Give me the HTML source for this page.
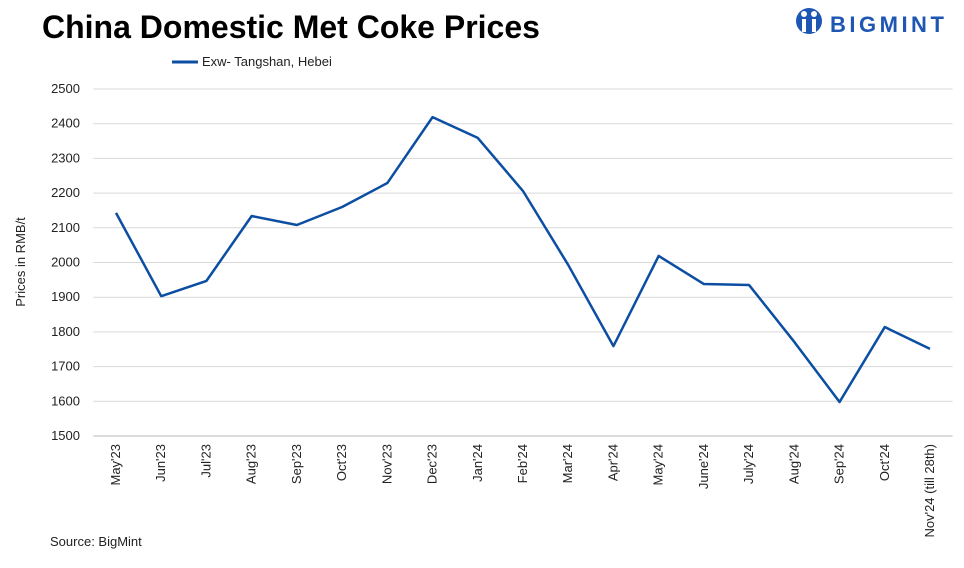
<!DOCTYPE html>
<html><head><meta charset="utf-8"><style>
body{margin:0;background:#fff;width:964px;height:563px;overflow:hidden;font-family:"Liberation Sans",Arial,sans-serif}
</style></head><body>
<svg id="c" width="964" height="563" xmlns="http://www.w3.org/2000/svg">
<text x="42" y="38" font-size="32" font-weight="bold" fill="#000">China Domestic Met Coke Prices</text>
<g>
<circle cx="809" cy="21" r="13" fill="#1e56b4"/>
<circle cx="804" cy="14" r="3" fill="#fff"/><circle cx="814" cy="14" r="3" fill="#fff"/>
<rect x="802" y="19" width="4" height="13" fill="#fff"/><rect x="812" y="19" width="4" height="13" fill="#fff"/>
<text x="830" y="32" font-size="22" font-weight="bold" fill="#1e56b4" letter-spacing="3.5">BIGMINT</text>
</g>
<g>
<line x1="172" y1="62" x2="198" y2="62" stroke="#0b4ea2" stroke-width="3"/>
<text x="202" y="66" font-size="13" fill="#222">Exw- Tangshan, Hebei</text>
</g>
<text transform="translate(25,262) rotate(-90)" text-anchor="middle" font-size="13" fill="#222">Prices in RMB/t</text>
<text x="50" y="546" font-size="13" fill="#222">Source: BigMint</text>
<g id="grid"></g><g id="xl"></g><g id="yl"></g><g id="series"></g>
</svg>
<script>
const categories=["May'23","Jun'23","Jul'23","Aug'23","Sep'23","Oct'23","Nov'23","Dec'23","Jan'24","Feb'24","Mar'24","Apr'24","May'24","June'24","July'24","Aug'24","Sep'24","Oct'24","Nov'24 (till 28th)"];
const prices=[2143,1903,1947,2134,2108,2160,2229,2419,2359,2206,1993,1759,2019,1938,1935,1771,1598,1814,1751];
const yTicks=[1500,1600,1700,1800,1900,2000,2100,2200,2300,2400,2500];
const NS="http://www.w3.org/2000/svg";
const L=93.4,R=952.6,T=89,B=436,ymin=1500,ymax=2500;
const step=(R-L)/categories.length;
const xs=i=>L+step*(i+0.5);
const ys=v=>B-(v-ymin)/(ymax-ymin)*(B-T);
function mk(t,a,p){const e=document.createElementNS(NS,t);for(const k in a)e.setAttribute(k,a[k]);p.appendChild(e);return e;}
const g=document.getElementById('grid'),yl=document.getElementById('yl'),xl=document.getElementById('xl'),s=document.getElementById('series');
yTicks.forEach(v=>{
 const ln=mk('line',{x1:L,x2:R,y1:ys(v),y2:ys(v),stroke:v===ymin?'#bbb':'#d9d9d9','stroke-width':1},g);
 
 
 const t=mk('text',{x:80,y:ys(v)+4,'text-anchor':'end','font-size':13,fill:'#222'},yl);
 t.textContent=v;
 
 
});
categories.forEach((c,i)=>{
 const x=xs(i);
 const t=mk('text',{transform:`translate(${x+4},${B+8}) rotate(-90)`,'text-anchor':'end','font-size':13,fill:'#222'},xl);
 t.textContent=c;
 
 
});
const p=mk('polyline',{points:prices.map((v,i)=>xs(i)+','+ys(v)).join(' '),fill:'none',stroke:'#0b4ea2','stroke-width':2.5,'stroke-linejoin':'round'},s);


</script>
</body></html>
